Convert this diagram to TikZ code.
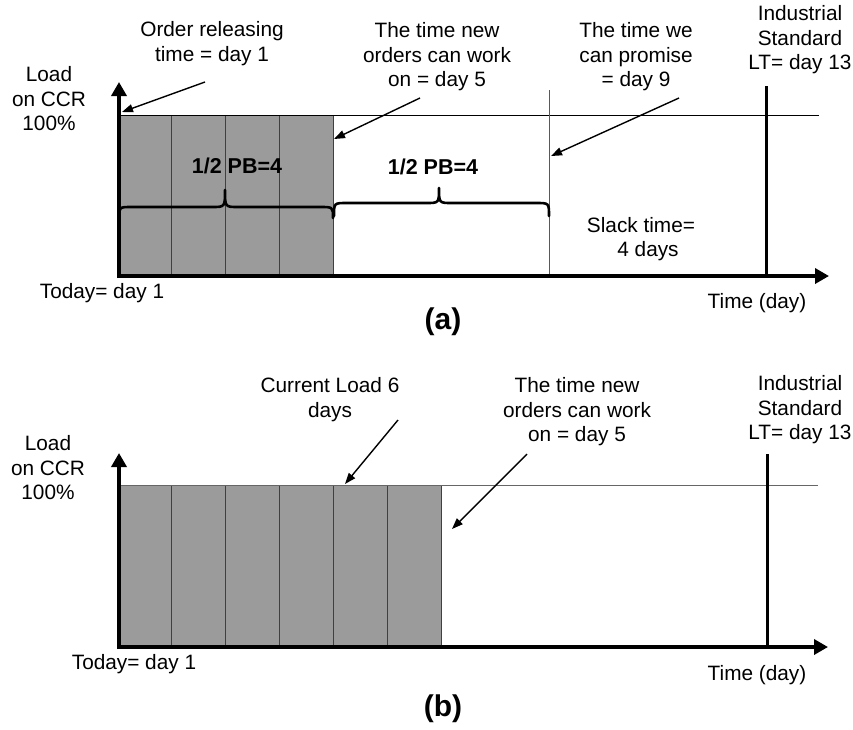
\documentclass[tikz,border=0pt]{standalone}
\usepackage{fontspec}
\setmainfont{Liberation Sans}
\usetikzlibrary{arrows.meta}
\tikzset{
  lbl/.style={align=center, inner sep=0pt, font=\fontsize{20.8}{24.5}\selectfont},
  bld/.style={align=center, inner sep=0pt, font=\fontsize{21.5}{24}\selectfont\bfseries},
  figcap/.style={inner sep=0pt, font=\fontsize{30}{32}\selectfont\bfseries},
  axis/.style={line width=4.2pt, -{Triangle[length=14pt,width=15pt]}},
  callout/.style={line width=1.4pt, -{Triangle[length=11pt,width=8pt]}},
  daybox/.style={fill=boxgray, draw=black!75, line width=1pt},
  bracestyle/.style={line width=2.6pt, line cap=round, line join=round},
  level/.style={line width=1pt},
  thick vline/.style={line width=3pt},
}
\definecolor{boxgray}{HTML}{9A9B9A}
\begin{document}
\begin{tikzpicture}[x=1pt,y=-1pt]
\useasboundingbox (0,0) rectangle (853,729);
% ================= (a) =================
\foreach \a/\b in {119/171,171/225,225/279,279/333} {
  \draw[daybox] (\a,115) rectangle (\b,276);
}
\draw[level] (119,115) -- (819,115);
\draw[line width=1pt, black!65] (549,90) -- (549,276);
\draw[thick vline] (766,86) -- (766,276);
% braces
\draw[bracestyle] (119,218) .. controls (119,207) .. (132,207) -- (212,207)
  .. controls (225,207) .. (225,190) .. controls (225,207) .. (238,207) -- (320,207)
  .. controls (333,207) .. (333,218);
\draw[bracestyle] (334,216) .. controls (334,203) .. (347,203) -- (426,203)
  .. controls (439,203) .. (439,188) .. controls (439,203) .. (452,203) -- (536,203)
  .. controls (549,203) .. (549,216);
% axes
\draw[axis] (117,276) -- (829,276);
\draw[axis] (119,278) -- (119,82);
% labels
\node[lbl] (loadA) at (49,99) {Load\\on CCR\\100\%};
\node[lbl] (relA) at (212,43.5) {Order releasing\\time = day 1};
\node[lbl] (newA) at (437,57) {The time new\\orders can work\\on = day 5};
\node[lbl] (promA) at (636,57) {The time we\\can promise\\= day 9};
\node[lbl] (indA) at (800,40) {Industrial\\Standard\\LT= day 13};
\node[lbl] (slackA) at (641,239) {Slack time=\\\hspace*{14pt}4 days};
\node[lbl] (todayA) at (102,293) {Today= day 1};
\node[lbl] (timeA) at (757,303) {Time (day)};
\node[bld] (pbA1) at (237,166) {1/2 PB=4};
\node[bld] (pbA2) at (433,167) {1/2 PB=4};
\node[figcap] (capA) at (443,322) {(a)};
% callouts
\coordinate (relS) at (205,82);   \coordinate (relE) at (122,112);
\coordinate (newS) at (420,98);   \coordinate (newE) at (334,139);
\coordinate (promS) at (679,98);  \coordinate (promE) at (551,156);
\draw[callout] (relS) -- (relE);
\draw[callout] (newS) -- (newE);
\draw[callout] (promS) -- (promE);
% ================= (b) =================
\foreach \a/\b in {119/171,171/225,225/279,279/333,333/387,387/441} {
  \draw[daybox] (\a,485) rectangle (\b,647);
}
\draw[level, black!60] (119,485) -- (818,485);
\draw[thick vline] (767,454) -- (767,647);
\draw[axis] (117,647) -- (828,647);
\draw[axis] (119,649) -- (119,453);
\node[lbl] (loadB) at (48,468) {Load\\on CCR\\100\%};
\node[lbl] (curB) at (330,399.5) {Current Load 6\\days};
\node[lbl] (newB) at (577,412) {The time new\\orders can work\\on = day 5};
\node[lbl] (indB) at (800,410) {Industrial\\Standard\\LT= day 13};
\node[lbl] (todayB) at (134,664) {Today= day 1};
\node[lbl] (timeB) at (757,675) {Time (day)};
\node[figcap] (capB) at (443,709) {(b)};
\coordinate (curS) at (398,420);  \coordinate (curE) at (345,484);
\coordinate (newBS) at (527,454); \coordinate (newBE) at (452,529);
\draw[callout] (curS) -- (curE);
\draw[callout] (newBS) -- (newBE);
\end{tikzpicture}
\end{document}
